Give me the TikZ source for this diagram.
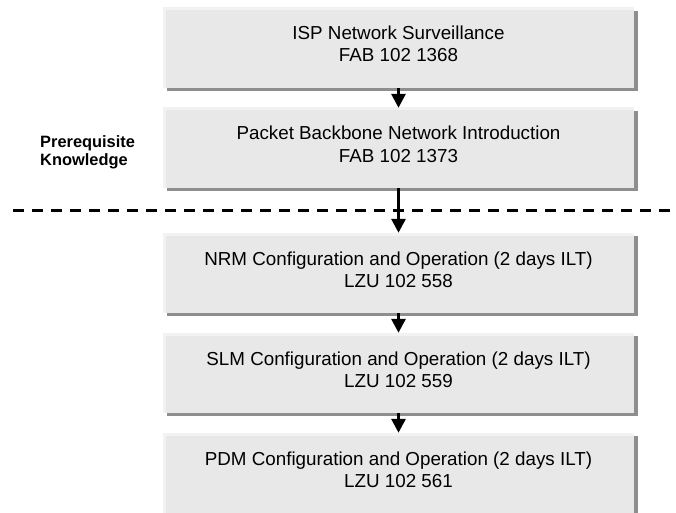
\documentclass[tikz,border=0pt]{standalone}
\usepackage{fontspec}
\setmainfont{Liberation Sans}
\usetikzlibrary{arrows.meta,shadows}
\definecolor{boxfill}{HTML}{E8E8E8}
\definecolor{boxedge}{HTML}{F2F2F2}
\definecolor{shadowgray}{HTML}{8E8E8E}
\newcommand\twolines[2]{\rule{0pt}{14pt}#1\\#2\rule[-8pt]{0pt}{8pt}}

\begin{document}
\begin{tikzpicture}[x=1pt, y=-1pt, line join=round, >={Triangle[width=14pt,length=14pt]},
		course/.style={rectangle, fill=boxfill, minimum width=471pt, minimum height=80pt, inner sep=0pt,
			align=center, font=\fontsize{18.8}{22}\selectfont,
			drop shadow={shadow xshift=4pt, shadow yshift=-3pt, fill=shadowgray, opacity=1},
			path picture={\draw[boxedge, line width=5pt] (path picture bounding box.south west)
				-- (path picture bounding box.north west) -- (path picture bounding box.north east);}},
		note/.style={anchor=west, inner sep=0pt, align=left, font=\bfseries\fontsize{16.4}{18}\selectfont},
		link/.style={->, line width=3pt},
		divider/.style={line width=3pt, dash pattern=on 11pt off 8pt}]
	\useasboundingbox (0,0) rectangle (676,513);
	\path (13,210) coordinate (L)
	(680,210) coordinate (R);
	% prerequisite courses
	\node[course] (isp) at (398.5,48) {\twolines{ISP Network Surveillance}{FAB 102 1368}};
	\node[course] (pbn) at (398.5,148) {\twolines{Packet Backbone Network Introduction}{FAB 102 1373}};
	\node[note] (prereq) at (40,152) {Prerequisite\\Knowledge};
	\draw[divider] (L) -- (R);
	% course flow
	\node[course] (nrm) at (398.5,273) {\twolines{NRM Configuration and Operation (2 days ILT)}{LZU 102 558}};
	\node[course] (slm) at (398.5,373) {\twolines{SLM Configuration and Operation (2 days ILT)}{LZU 102 559}};
	\node[course] (pdm) at (398.5,473) {\twolines{PDM Configuration and Operation (2 days ILT)}{LZU 102 561}};
	\draw[link] (isp.south) -- (pbn.north);
	\draw[link] (pbn.south) -- (nrm.north);
	\draw[link] (nrm.south) -- (slm.north);
	\draw[link] (slm.south) -- (pdm.north);
\end{tikzpicture}
\end{document}
